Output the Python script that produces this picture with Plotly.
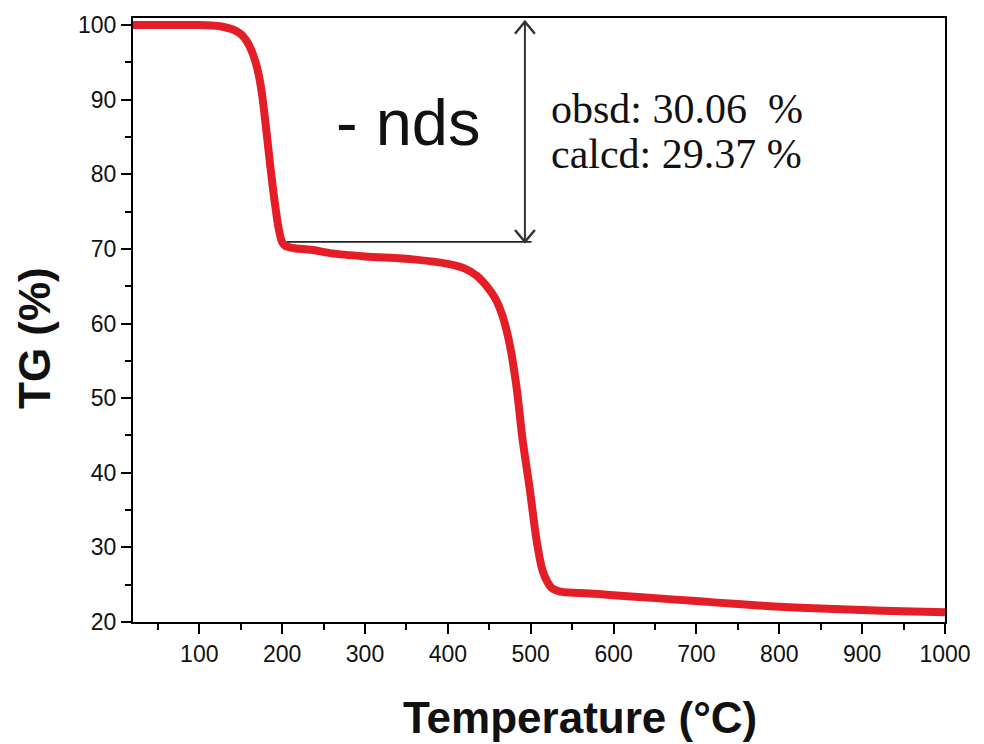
import plotly.graph_objects as go

# ---- data ----
temperature = [20, 60, 100, 115, 125, 135, 143, 150, 157, 163, 168, 172, 176, 181, 186, 191,
               196, 200, 204, 215, 235, 260, 300, 358, 400, 420, 435, 447, 457, 466, 475, 483,
               490, 499, 507, 514, 520, 525, 532, 540, 560, 600, 650, 700, 750, 800, 850, 900,
               950, 1000]
tg = [100, 100, 100, 99.95, 99.85, 99.6, 99.3, 98.8, 97.9, 96.6, 95.0, 93.2, 90.5, 85.8, 80.8,
      76.3, 72.6, 70.9, 70.4, 70.1, 69.9, 69.4, 69.0, 68.6, 68.0, 67.4, 66.4, 65.0, 63.4, 61.0,
      57.0, 51.4, 44.6, 37.7, 31.0, 27.0, 25.4, 24.6, 24.2, 24.0, 23.9, 23.6, 23.2, 22.8, 22.4,
      22.05, 21.8, 21.6, 21.45, 21.3]

x_ticks = [100, 200, 300, 400, 500, 600, 700, 800, 900, 1000]
y_ticks = [20, 30, 40, 50, 60, 70, 80, 90, 100]

step_label = "- nds"
obsd_label = "obsd: 30.06\u00a0 %"
calcd_label = "calcd: 29.37\u00a0%"

# annotation geometry (data coordinates)
arrow_x = 493
arrow_top = 100.45
arrow_bottom = 70.95
hline_x0, hline_x1 = 205.8, 501
head_dx, head_dy = 12, 1.6

# layout geometry in pixels
W, H = 984, 744
plot_l, plot_r, plot_t, plot_b = 133, 945, 18, 622

fig = go.Figure()
fig.add_trace(go.Scatter(
    x=temperature, y=tg, mode="lines",
    line=dict(color="#e41e26", width=8, shape="spline", smoothing=0.8),
    showlegend=False, hoverinfo="x+y",
))

line_col = "#333333"
shapes = [
    dict(type="line", xref="x", yref="y", x0=hline_x0, x1=hline_x1,
         y0=arrow_bottom, y1=arrow_bottom, line=dict(color="#222222", width=1.6)),
    dict(type="line", xref="x", yref="y", x0=arrow_x, x1=arrow_x,
         y0=arrow_bottom, y1=arrow_top, line=dict(color=line_col, width=2)),
    dict(type="path", xref="x", yref="y",
         path=f"M {arrow_x-head_dx},{arrow_top-head_dy} L {arrow_x},{arrow_top} L {arrow_x+head_dx},{arrow_top-head_dy}",
         line=dict(color=line_col, width=2.4)),
    dict(type="path", xref="x", yref="y",
         path=f"M {arrow_x-head_dx},{arrow_bottom+head_dy} L {arrow_x},{arrow_bottom} L {arrow_x+head_dx},{arrow_bottom+head_dy}",
         line=dict(color=line_col, width=2.4)),
]

sans = "Liberation Sans, Arial, sans-serif"
serif = "Liberation Serif, Times New Roman, serif"

def px_to_paper_x(px):
    return (px - plot_l) / (plot_r - plot_l)

def px_to_paper_y(py):
    return (plot_b - py) / (plot_b - plot_t)

annotations = [
    dict(x=353, y=86.9, xref="x", yref="y", text=step_label, showarrow=False,
         xanchor="center", yanchor="middle",
         font=dict(family=sans, size=65, color="#111111")),
    dict(x=521.5, y=88.7, xref="x", yref="y", text=obsd_label, showarrow=False,
         xanchor="left", yanchor="middle",
         font=dict(family=serif, size=42, color="#111111")),
    dict(x=521.5, y=82.7, xref="x", yref="y", text=calcd_label, showarrow=False,
         xanchor="left", yanchor="middle",
         font=dict(family=serif, size=42, color="#111111")),
    # axis titles
    dict(x=px_to_paper_x(580), y=px_to_paper_y(717), xref="paper", yref="paper",
         text="<b>Temperature (\u00b0C)</b>",
         showarrow=False, xanchor="center", yanchor="middle",
         font=dict(family=sans, size=44, color="#111111")),
    dict(x=px_to_paper_x(34), y=px_to_paper_y(338), xref="paper", yref="paper",
         text="<b>TG (%)</b>", textangle=-90,
         showarrow=False, xanchor="center", yanchor="middle",
         font=dict(family=sans, size=44, color="#111111")),
]

fig.update_layout(
    width=W, height=H,
    margin=dict(l=plot_l, r=W - plot_r, t=plot_t, b=H - plot_b),
    paper_bgcolor="white", plot_bgcolor="white",
    shapes=shapes, annotations=annotations,
    font=dict(family=sans, color="#111111"),
)

axis_common = dict(
    showgrid=False, zeroline=False, showline=True, linecolor="black", linewidth=2,
    mirror=True, ticks="outside", ticklen=10, tickwidth=2, tickcolor="black",
    tickfont=dict(family=sans, size=23, color="#111111"),
)

fig.update_xaxes(
    **axis_common, range=[20, 1000], tickvals=x_ticks, ticktext=[str(v) for v in x_ticks],
    minor=dict(ticks="outside", ticklen=6, tickwidth=2, tickcolor="black", dtick=50, tick0=0),
)
fig.update_yaxes(
    **axis_common, range=[20, 100.95], tickvals=y_ticks, ticktext=[str(v) for v in y_ticks],
    minor=dict(ticks="outside", ticklen=6, tickwidth=2, tickcolor="black", dtick=5, tick0=0),
)

fig.write_html("out.html")
